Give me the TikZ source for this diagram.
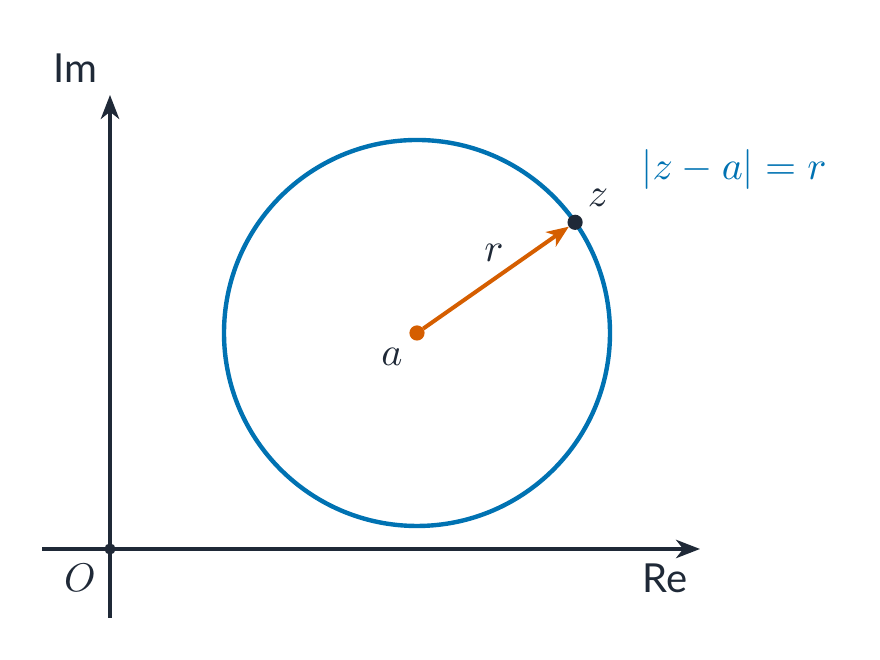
\documentclass[tikz,border=0pt]{standalone}
\usepackage{fontspec}
\setmainfont{Lato}
\usetikzlibrary{%
  arrows.meta,% Stealth tips
  positioning%
}
\definecolor{ink}{HTML}{1F2937}
\definecolor{circblue}{HTML}{0072B2}
\definecolor{radorange}{HTML}{D55E00}
\tikzset{
  axis/.style={draw=ink,line width=0.85pt,-{Stealth[length=6pt,width=4.6pt,inset=1.8pt]}},
  dot/.style={circle,inner sep=0,outer sep=0,minimum size=3.8pt},
  lbl/.style={text=ink,inner sep=0}
}

\begin{document}
\begin{tikzpicture}[x=0.25pt,y=-0.25pt]
      \useasboundingbox (0,0) rectangle (880,660);
      \coordinate (xl) at (42,549);
      \coordinate (xr) at (700,549);
      \coordinate (yb) at (110,618);
      \coordinate (yt) at (110,95);

      \path [axis] (xl) -- (xr);
      \path [axis] (yb) -- (yt);

      \node[draw=circblue,line width=1.1pt,circle,inner sep=0,outer sep=0,minimum size=96.5pt] (disc) at (417,333) {};
      \node[dot,fill=ink,minimum size=2.8pt] (O) at (110,549) {};
      \node[dot,fill=radorange] (a) at (417,333) {};
      \node[dot,fill=ink] (z) at (disc.35) {};

      \path [draw=radorange,line width=1pt,-{Stealth[length=5.5pt,width=4.4pt,inset=1.6pt]}] (a) -- (z);

      \node[lbl] (im) at (75,68) {Im};
      \node[lbl] (re) at (665,578) {Re};
      \node[lbl] (o) at (80,578) {$O$};
      \node[lbl] (la) at (392,357) {$a$};
      \node[lbl] (lr) at (494,253) {$r$};
      \node[lbl] (lz) at (598,198) {$z$};
      \node[inner sep=0,text=circblue] (eq) at (734,170) {$|z-a|=r$};
    \end{tikzpicture}
\end{document}
